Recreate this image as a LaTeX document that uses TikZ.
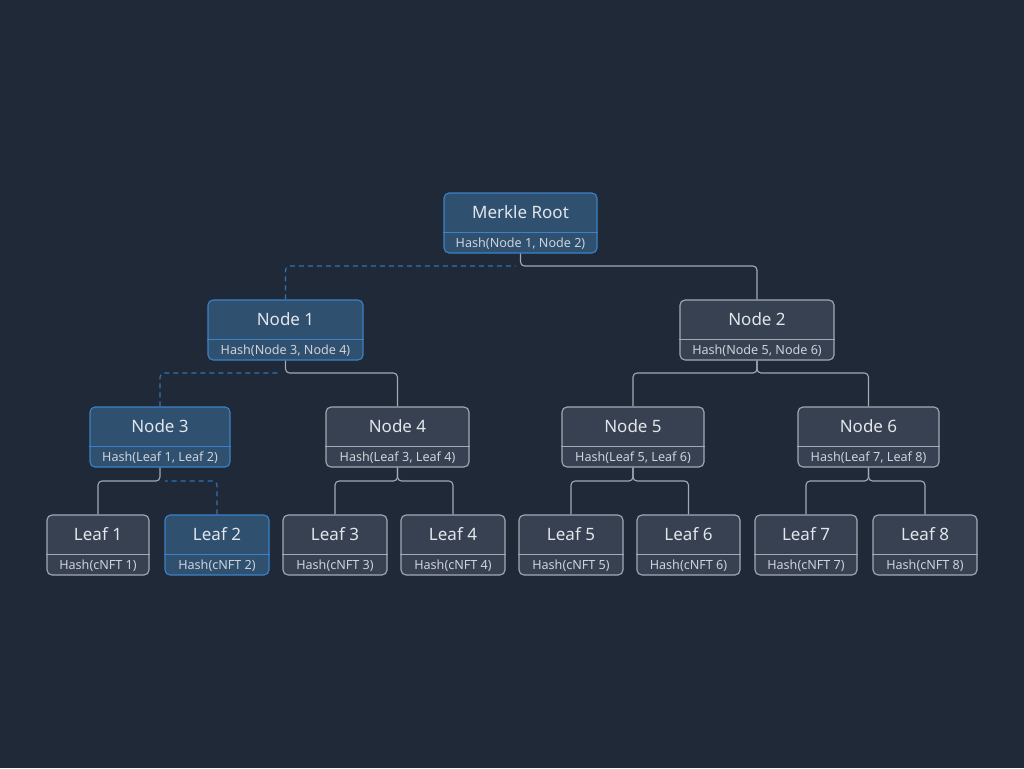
\documentclass[tikz,border=0pt]{standalone}
\usepackage{fontspec}
\setmainfont{Noto Sans}
\definecolor{bg}{HTML}{1F2937}
\definecolor{boxfill}{HTML}{374151}
\definecolor{boxline}{HTML}{A3AAB5}
\definecolor{hlfill}{HTML}{30506F}
\definecolor{hlline}{HTML}{3B82C8}
\definecolor{wire}{HTML}{A3AAB5}
\definecolor{hlwire}{HTML}{2F74B5}
\definecolor{titlecol}{HTML}{E2E6EC}
\definecolor{hashcol}{HTML}{CDD3DB}
\tikzset{
  plainbox/.style={draw=boxline, fill=boxfill, line width=1.1pt, rounded corners=5pt, minimum height=60pt, inner sep=0pt},
  hlbox/.style={draw=hlline, fill=hlfill, line width=1.1pt, rounded corners=5pt, minimum height=60pt, inner sep=0pt},
  plainrule/.style={draw=boxline, line width=1pt},
  hlrule/.style={draw=hlline, line width=1pt},
  titletext/.style={text=titlecol, font=\fontsize{17}{19}\selectfont, inner sep=0pt},
  hashtext/.style={text=hashcol, font=\fontsize{12.6}{14}\selectfont, inner sep=0pt},
  link/.style={draw=wire, line width=1.1pt, rounded corners=4pt},
  hllink/.style={draw=hlwire, line width=1.1pt, dashed, dash pattern=on 5pt off 4pt, rounded corners=4pt},
}
% #1 name, #2 x, #3 y, #4 width, #5 title, #6 hash, #7 style prefix
\newcommand\hashbox[7]{%
  \node[#7box, minimum width=#4pt] (#1) at (#2,#3) {};
  \draw[#7rule] ([yshift=21pt]#1.south west) -- ([yshift=21pt]#1.south east);
  \node[titletext] (#1-t) at ([yshift=11pt]#1.center) {#5};
  \node[hashtext] (#1-h) at ([yshift=-20.5pt]#1.center) {#6};
}
\begin{document}
\begin{tikzpicture}[x=1pt,y=-1pt]
\fill[bg] (0,0) rectangle (1024,768);
\useasboundingbox (0,0) rectangle (1024,768);

% junction points below each parent
\coordinate (jr) at (520.5,266);
\coordinate (j1) at (285.5,373);
\coordinate (j2) at (757,373);
\coordinate (j3) at (160,481);
\coordinate (j4) at (397.5,481);
\coordinate (j5) at (633,481);
\coordinate (j6) at (868.5,481);

\hashbox{root}{520.5}{223}{153}{Merkle Root}{Hash(Node 1, Node 2)}{hl}
\hashbox{n1}{285.5}{330}{155}{Node 1}{Hash(Node 3, Node 4)}{hl}
\hashbox{n2}{757}{330}{154}{Node 2}{Hash(Node 5, Node 6)}{plain}
\hashbox{n3}{160}{437}{140}{Node 3}{Hash(Leaf 1, Leaf 2)}{hl}
\hashbox{n4}{397.5}{437}{143}{Node 4}{Hash(Leaf 3, Leaf 4)}{plain}
\hashbox{n5}{633}{437}{142}{Node 5}{Hash(Leaf 5, Leaf 6)}{plain}
\hashbox{n6}{868.5}{437}{141}{Node 6}{Hash(Leaf 7, Leaf 8)}{plain}
\hashbox{l1}{98}{545}{102}{Leaf 1}{Hash(cNFT 1)}{plain}
\hashbox{l2}{217}{545}{104}{Leaf 2}{Hash(cNFT 2)}{hl}
\hashbox{l3}{335}{545}{104}{Leaf 3}{Hash(cNFT 3)}{plain}
\hashbox{l4}{453}{545}{104}{Leaf 4}{Hash(cNFT 4)}{plain}
\hashbox{l5}{571}{545}{104}{Leaf 5}{Hash(cNFT 5)}{plain}
\hashbox{l6}{688.5}{545}{103}{Leaf 6}{Hash(cNFT 6)}{plain}
\hashbox{l7}{806}{545}{102}{Leaf 7}{Hash(cNFT 7)}{plain}
\hashbox{l8}{925}{545}{104}{Leaf 8}{Hash(cNFT 8)}{plain}

% plain connectors
\draw[link] (root.south) -- (jr) -| (n2.north);
\draw[link] (n1.south) -- (j1) -| (n4.north);
\draw[link] (n2.south) -- (j2) -| (n5.north);
\draw[link] (n2.south) -- (j2) -| (n6.north);
\draw[link] (n3.south) -- (j3) -| (l1.north);
\draw[link] (n4.south) -- (j4) -| (l3.north);
\draw[link] (n4.south) -- (j4) -| (l4.north);
\draw[link] (n5.south) -- (j5) -| (l5.north);
\draw[link] (n5.south) -- (j5) -| (l6.north);
\draw[link] (n6.south) -- (j6) -| (l7.north);
\draw[link] (n6.south) -- (j6) -| (l8.north);

% proof path
\draw[hllink] (n1.north) |- ([xshift=-5pt]jr);
\draw[hllink] (n3.north) |- ([xshift=-5pt]j1);
\draw[hllink] (l2.north) |- ([xshift=5pt]j3);
\end{tikzpicture}
\end{document}
